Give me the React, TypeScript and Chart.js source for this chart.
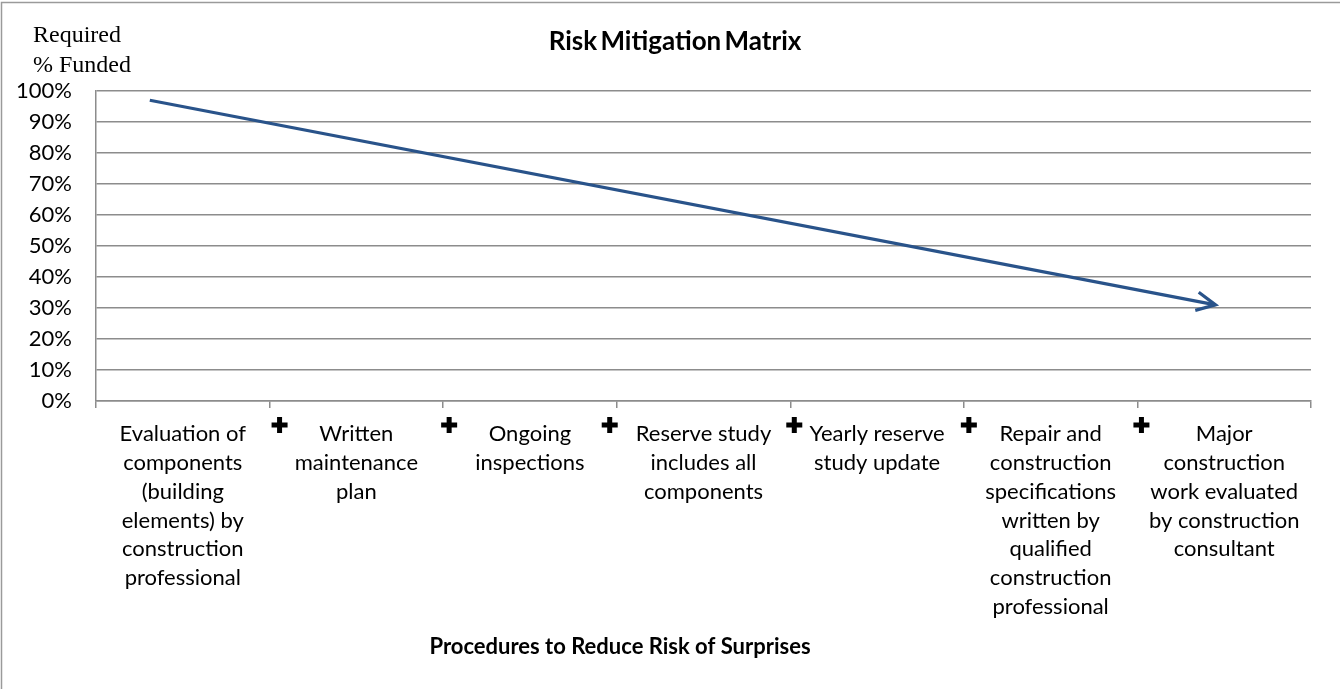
import React, { useEffect, useRef } from 'react';
import { Chart, registerables } from 'chart.js';

Chart.register(...registerables);

// ---- data ----
const categories: string[][] = [
  ['Evaluation of', 'components', '(building', 'elements) by', 'construction', 'professional'],
  ['Written', 'maintenance', 'plan'],
  ['Ongoing', 'inspections'],
  ['Reserve study', 'includes all', 'components'],
  ['Yearly reserve', 'study update'],
  ['Repair and', 'construction', 'specifications', 'written by', 'qualified', 'construction', 'professional'],
  ['Major', 'construction', 'work evaluated', 'by construction', 'consultant'],
];
const yTickValues = [0, 10, 20, 30, 40, 50, 60, 70, 80, 90, 100];
// arrow: position along the category axis (in category units) and % funded
const trendX = [0.31, 6.45];
const trendY = [97, 31];
const chartTitle = 'Risk Mitigation Matrix';
const yAxisTitle = ['Required', '% Funded'];
const xAxisTitle = 'Procedures to Reduce Risk of Surprises';
const plusMarkers = [1, 2, 3, 4, 5, 6];

const SANS = 'Lato, "Noto Sans", sans-serif';
const GRID = '#8c8c8c';
const LINE = '#29538A';

const decorPlugin = {
  id: 'decor',
  afterDraw(chart: any) {
    const ctx = chart.ctx as CanvasRenderingContext2D;
    const area = chart.chartArea;
    const x2 = chart.scales.x2;
    ctx.save();
    // outer border (left + top)
    ctx.strokeStyle = '#9a9a9a';
    ctx.lineWidth = 1.5;
    ctx.beginPath();
    ctx.moveTo(1.5, chart.height);
    ctx.lineTo(1.5, 2.5);
    ctx.lineTo(chart.width, 2.5);
    ctx.stroke();

    // title
    ctx.fillStyle = '#000';
    ctx.textAlign = 'center';
    ctx.textBaseline = 'middle';
    ctx.font = `bold 26px ${SANS}`;
    try { (ctx as any).wordSpacing = '-3px'; } catch (e) {}
    ctx.fillText(chartTitle, 675, 42);
    try { (ctx as any).wordSpacing = '0px'; } catch (e) {}

    // y axis title
    ctx.textAlign = 'left';
    ctx.textBaseline = 'alphabetic';
    ctx.font = `24px "Liberation Serif", "DejaVu Serif", serif`;
    ctx.fillText(yAxisTitle[0], 33, 42);
    ctx.fillText(yAxisTitle[1], 33, 72);

    // x axis title
    ctx.textAlign = 'center';
    ctx.textBaseline = 'middle';
    ctx.font = `bold 22px ${SANS}`;
    ctx.fillText(xAxisTitle, 620, 647);

    // plus signs at category boundaries
    const offs = [10, 6, -7, 4, 5, 4];
    plusMarkers.forEach((b, i) => {
      const cx = x2.getPixelForValue(b) + offs[i];
      const cy = area.bottom + 24;
      const len = 16, th = 5;
      ctx.fillRect(cx - len / 2, cy - th / 2, len, th);
      ctx.fillRect(cx - th / 2, cy - len / 2, th, len);
    });

    // arrow head
    const meta = chart.getDatasetMeta(0);
    const pts = meta.data;
    if (pts.length >= 2) {
      const a = pts[pts.length - 2];
      const b = pts[pts.length - 1];
      const ang = Math.atan2(b.y - a.y, b.x - a.x);
      const L = 21, spread = (26 * Math.PI) / 180;
      ctx.strokeStyle = LINE;
      ctx.lineWidth = 3.2;
      ctx.lineJoin = 'miter';
      ctx.beginPath();
      ctx.moveTo(b.x - L * Math.cos(ang - spread), b.y - L * Math.sin(ang - spread));
      ctx.lineTo(b.x, b.y);
      ctx.lineTo(b.x - L * Math.cos(ang + spread), b.y - L * Math.sin(ang + spread));
      ctx.stroke();
    }
    ctx.restore();
  },
};

export default function App() {
  const ref = useRef<HTMLCanvasElement | null>(null);
  useEffect(() => {
    if (!ref.current) return;
    const chart = new Chart(ref.current, {
      type: 'line',
      data: {
        datasets: [
          {
            data: trendX.map((x, i) => ({ x, y: trendY[i] })),
            xAxisID: 'x2',
            yAxisID: 'y',
            borderColor: LINE,
            borderWidth: 3.2,
            pointRadius: 0,
            fill: false,
            tension: 0,
          },
        ],
      },
      options: {
        animation: false,
        responsive: false,
        devicePixelRatio: 1,
        layout: { padding: { top: 91, right: 29, left: 0, bottom: 0 } },
        plugins: { legend: { display: false }, title: { display: false }, tooltip: { enabled: false } },
        scales: {
          x: {
            type: 'category',
            labels: categories as any,
            offset: true,
            grid: {
              offset: true,
              drawOnChartArea: false,
              drawTicks: true,
              tickLength: 7,
              color: GRID,
              lineWidth: 1.5,
            },
            border: { display: true, color: GRID, width: 1.5 },
            ticks: {
              autoSkip: false,
              maxRotation: 0,
              minRotation: 0,
              padding: 12,
              color: '#000',
              font: { family: SANS, size: 22, lineHeight: 28.7 / 22 },
            },
            afterFit: (s: any) => { s.height = 288; },
          },
          x2: { type: 'linear', min: 0, max: 7, display: false },
          y: {
            min: 0,
            max: 100,
            afterBuildTicks: (s: any) => { s.ticks = yTickValues.map((v) => ({ value: v })); },
            ticks: {
              padding: 24,
              color: '#000',
              font: { family: SANS, size: 22 },
              callback: (v: any) => `${v}%`,
            },
            grid: { color: GRID, lineWidth: 1.5, drawTicks: false },
            border: { display: true, color: GRID, width: 1.5 },
            afterFit: (s: any) => { s.width = 96; },
          },
        },
      },
      plugins: [decorPlugin],
    });
    return () => chart.destroy();
  }, []);
  return (
    <div style={{ position: 'absolute', left: 0, top: 0, width: 1340, height: 689, background: '#fff' }}>
      <canvas ref={ref} width={1340} height={689} style={{ width: 1340, height: 689, display: 'block' }} />
    </div>
  );
}
